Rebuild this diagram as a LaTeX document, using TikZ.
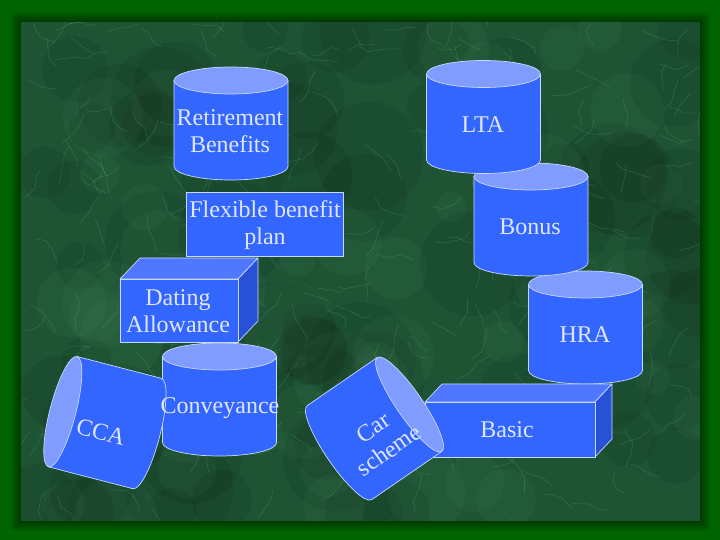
\documentclass[tikz,border=0pt]{standalone}
\usepackage{fontspec}
\setmainfont{Liberation Serif}
\definecolor{bodyc}{RGB}{51,102,255}
\definecolor{capc}{RGB}{128,156,255}
\definecolor{topc}{RGB}{80,120,255}
\definecolor{sidec}{RGB}{40,82,214}
\definecolor{edgec}{RGB}{200,215,255}
\definecolor{txtc}{RGB}{222,230,255}
\definecolor{frame}{RGB}{0,100,0}
\definecolor{marble}{RGB}{30,84,52}
\definecolor{veinc}{RGB}{120,190,145}
\tikzset{
  solid3d/.style={fill=bodyc, draw=edgec, line width=0.7pt, line join=round},
  capst/.style={fill=capc, draw=edgec, line width=0.7pt},
  topst/.style={fill=topc, draw=edgec, line width=0.7pt, line join=round},
  sidest/.style={fill=sidec, draw=edgec, line width=0.7pt, line join=round},
  lbl/.style={text=txtc, font=\fontsize{24}{27.6}\selectfont, align=center, inner sep=0pt},
  vein/.style={draw=veinc, line width=0.4pt, opacity=0.3, line join=round},
}
\newcommand{\ucyl}[2]{%
  \path[solid3d] (#1-57,#2) -- (#1-57,#2-86) arc[start angle=180,end angle=360,x radius=57,y radius=13.5] -- (#1+57,#2) -- cycle;
  \path[capst] (#1,#2) ellipse[x radius=57,y radius=13.5];}
\newcommand{\tcyl}[4]{%
  \begin{scope}[shift={(#1,#2)},rotate=#3]
  \path[solid3d] (0,57) -- (#4,57) arc[start angle=90,end angle=-90,x radius=13,y radius=57] -- (0,-57) -- cycle;
  \path[capst] (0,0) ellipse[x radius=13,y radius=57];
  \end{scope}}
\newcommand{\tbox}[6]{%
  \path[topst] (#1,#4) -- (#1+#5,#4+#6) -- (#3+#5,#4+#6) -- (#3,#4) -- cycle;
  \path[sidest] (#3,#4) -- (#3+#5,#4+#6) -- (#3+#5,#2+#6) -- (#3,#2) -- cycle;
  \path[solid3d] (#1,#2) rectangle (#3,#4);}
\begin{document}
\begin{tikzpicture}[x=1pt,y=1pt]
\useasboundingbox (0,0) rectangle (720,540);
% background
\fill[frame] (0,0) rectangle (720,540);
\foreach \k in {10,...,1} \fill[black,opacity=0.045] (21-\k,19-\k) rectangle (700+\k,518+\k);
\fill[marble] (21,19) rectangle (700,518);
\begin{scope}
  \clip (21,19) rectangle (700,518);
  \pgfmathsetseed{42}
  \foreach \i in {1,...,80}{
    \pgfmathsetmacro\xa{21+rnd*679}\pgfmathsetmacro\ya{19+rnd*499}\pgfmathsetmacro\rr{20+rnd*35}
    \fill[black,opacity=0.07] (\xa,\ya) circle (\rr);}
  \foreach \i in {1,...,50}{
    \pgfmathsetmacro\xa{21+rnd*679}\pgfmathsetmacro\ya{19+rnd*499}\pgfmathsetmacro\rr{15+rnd*30}
    \fill[veinc,opacity=0.05] (\xa,\ya) circle (\rr);}
  \foreach \i in {1,...,260}{
    \pgfmathsetmacro\xa{21+rnd*679}\pgfmathsetmacro\ya{19+rnd*499}\pgfmathsetmacro\an{rnd*360}
    \pgfmathsetmacro\la{6+rnd*10}\pgfmathsetmacro\lb{6+rnd*10}\pgfmathsetmacro\lc{6+rnd*10}
    \pgfmathsetmacro\ab{\an+rnd*90-45}\pgfmathsetmacro\ac{\ab+rnd*90-45}
    \path[vein] (\xa,\ya) -- ++(\an:\la) -- ++(\ab:\lb) -- ++(\ac:\lc);}
\end{scope}
% shapes
\ucyl{231}{459.5}
\path[solid3d] (186,284) rectangle (343,348);
\tbox{120}{198}{238}{261}{20}{21}
\ucyl{585.5}{255.5}
\ucyl{531}{363.5}
\ucyl{483.5}{466}
\ucyl{219.5}{183.5}
\tcyl{62.8}{128.3}{-14.5}{87}
\tbox{425}{83}{595}{138}{17}{18}
\tcyl{409.5}{135.5}{214.5}{85}
% labels
\node[lbl] (ret) at (230,409) {Retirement\\Benefits};
\node[lbl] (flex) at (265,315) {Flexible benefit\\plan};
\node[lbl] (dat) at (178,229) {Dating\\Allowance};
\node[lbl] (lta) at (483,415) {LTA};
\node[lbl] (bon) at (530,313) {Bonus};
\node[lbl] (hra) at (585,205) {HRA};
\node[lbl] (conv) at (220,132) {Conveyance};
\node[lbl, rotate=-14.5] (cca) at (101,108) {CCA};
\node[lbl, rotate=35] (car) at (381,101) {Car\\scheme};
\node[lbl] (basic) at (507,110) {Basic};
\end{tikzpicture}
\end{document}
